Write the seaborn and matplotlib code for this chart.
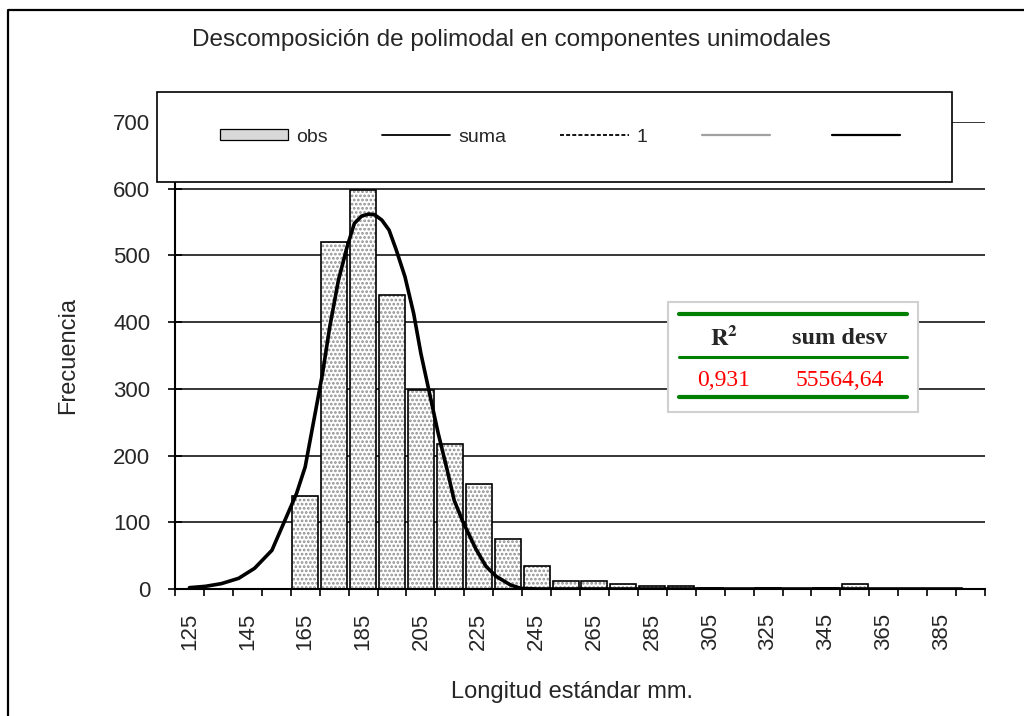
"""
Polymodal length histogram with the fitted unimodal sum curve.
"""

import matplotlib.pyplot as plt
import seaborn as sns
from matplotlib.lines import Line2D
from matplotlib.patches import Patch, Rectangle

OUT_FILE = "out.png"
FIG_W, FIG_H = 1024, 716

# class centres (mm) and observed frequencies
BIN_MM = [125, 135, 145, 155, 165, 175, 185, 195, 205, 215, 225, 235, 245, 255,
          265, 275, 285, 295, 305, 315, 325, 335, 345, 355, 365, 375, 385, 395]
OBS = [0, 0, 0, 0, 140, 520, 598, 440, 298, 217, 157, 75, 35, 12,
       12, 8, 5, 5, 2, 0, 2, 0, 2, 8, 0, 0, 0, 0]

# "suma" curve, points
CURVE_MM = [125, 130.5, 136, 142, 147.5, 153.5, 159, 162, 165, 168, 171, 173.5,
            176.5, 179.5, 182, 184.5, 187, 189, 191.5, 194, 196.5, 199.5, 202.5,
            205, 208, 211, 214, 216.5, 219.5, 224, 227.5, 231, 236, 239.5, 245, 392]
CURVE_SUMA = [2, 4, 8, 16, 31, 58, 113, 143, 183, 253, 323, 393,
              463, 513, 548, 559, 562, 561, 553, 538, 508, 468, 413,
              353, 293, 233, 180, 133, 101, 60, 34, 19, 6, 1, 0, 0]

X_TICK_LABELS = [125, 145, 165, 185, 205, 225, 245, 265, 285, 305, 325, 345, 365, 385]
Y_TICKS = [0, 100, 200, 300, 400, 500, 600, 700]

LEGEND_LABELS = ["obs", "suma", "1", "", ""]
TABLE_HEADERS = [r"$\mathbf{R^2}$", "sum desv"]
TABLE_VALUES = ["0,931", "55564,64"]

TITLE = "Descomposición de polimodal en componentes unimodales"
X_LABEL = "Longitud estándar mm."
Y_LABEL = "Frecuencia"


def fx(px):
    """Pixel x -> figure fraction."""
    return px / FIG_W


def fy(py):
    """Pixel y (from top) -> figure fraction."""
    return 1 - py / FIG_H


def draw_axes(fig):
    ax = fig.add_axes([fx(175), fy(589), fx(985) - fx(175), fy(122) - fy(589)])

    # dotted grey fill first, then black outlines on top
    sns.barplot(x=BIN_MM, y=OBS, native_scale=True, width=0.9, errorbar=None,
                facecolor="white", edgecolor="#8e8e8e", hatch="....",
                linewidth=0, zorder=2, ax=ax)
    sns.barplot(x=BIN_MM, y=OBS, native_scale=True, width=0.9, errorbar=None,
                facecolor="none", edgecolor="black", linewidth=1.2,
                zorder=3, ax=ax)
    sns.lineplot(x=CURVE_MM, y=CURVE_SUMA, color="black", linewidth=2.6,
                 zorder=4, ax=ax)

    ax.set_xlim(120, 400)
    ax.set_ylim(0, 700)
    ax.set_yticks(Y_TICKS)
    ax.set_xticks(X_TICK_LABELS)
    ax.set_xticks(range(120, 401, 10), minor=True)

    ax.tick_params(axis="x", which="major", bottom=True, length=0, pad=17,
                   labelsize=16, labelrotation=90)
    ax.tick_params(axis="x", which="minor", bottom=True, direction="out",
                   length=5, width=1.2, color="black")
    ax.tick_params(axis="y", left=True, direction="inout", length=9.5,
                   width=1.2, pad=13, labelsize=16, color="black")

    ax.yaxis.grid(True, color="black", linewidth=1.1)
    ax.xaxis.grid(False)
    ax.set_axisbelow(True)
    for side in ["top", "right"]:
        ax.spines[side].set_visible(False)
    for side in ["left", "bottom"]:
        ax.spines[side].set_color("black")
        ax.spines[side].set_linewidth(1.5)

    ax.set_xlabel(X_LABEL, fontsize=17)
    ax.set_ylabel(Y_LABEL, fontsize=17)
    ax.xaxis.set_label_coords(0.49, -0.198)
    ax.xaxis.label.set_va("top")
    ax.yaxis.set_label_coords(-0.118, 0.5)
    return ax


def draw_legend(fig):
    fig.add_artist(Rectangle((fx(157), fy(182)), fx(952) - fx(157), fy(92) - fy(182),
                             transform=fig.transFigure, facecolor="white",
                             edgecolor="black", linewidth=1.2, zorder=4))
    handles = [
        Patch(facecolor="#d8d8d8", edgecolor="black", linewidth=0.9),
        Line2D([], [], color="black", linewidth=1.3),
        Line2D([], [], color="black", linewidth=1.3, dashes=(2.2, 1.2)),
        Line2D([], [], color="#a0a0a0", linewidth=1.6),
        Line2D([], [], color="black", linewidth=1.6),
    ]
    fig.legend(handles, LEGEND_LABELS, loc="center", bbox_to_anchor=(fx(564), fy(137)),
               ncol=5, frameon=False, fontsize=14, handlelength=3.5,
               handleheight=0.5, handletextpad=0.4, columnspacing=2.8)


def draw_table(fig):
    fig.add_artist(Rectangle((fx(668), fy(412)), fx(918) - fx(668), fy(302) - fy(412),
                             transform=fig.transFigure, facecolor="white",
                             edgecolor="#d0d0d0", linewidth=1.5, zorder=4))
    for y, lw in [(314, 3.0), (357, 2.2), (397, 3.0)]:
        fig.add_artist(Line2D([fx(679), fx(907)], [fy(y), fy(y)],
                              transform=fig.transFigure, color="#008000",
                              linewidth=lw, zorder=5))
    serif = ["Liberation Serif", "DejaVu Serif"]
    for x, head, val in zip([724, 840], TABLE_HEADERS, TABLE_VALUES):
        fig.text(fx(x), fy(338), head, ha="center", va="center", family=serif,
                 fontsize=17.5, fontweight="bold", math_fontfamily="stix", zorder=6)
        fig.text(fx(x), fy(380), val, ha="center", va="center", family=serif,
                 fontsize=17, color="red", zorder=6)


def main():
    sns.set_theme(style="white")
    plt.rcParams["font.family"] = ["Liberation Sans", "DejaVu Sans"]
    plt.rcParams["hatch.linewidth"] = 1.3

    fig = plt.figure(figsize=(FIG_W / 100, FIG_H / 100), dpi=100)
    fig.patch.set_facecolor("white")

    draw_axes(fig)
    draw_legend(fig)
    draw_table(fig)

    fig.text(fx(511), fy(40), TITLE, ha="center", va="center", fontsize=17.5)
    fig.add_artist(Line2D([fx(8), fx(8), 1.0], [0.0, fy(10), fy(10)],
                          transform=fig.transFigure, color="black", linewidth=1.6))

    fig.savefig(OUT_FILE, dpi=100)
    plt.close(fig)


if __name__ == "__main__":
    main()
